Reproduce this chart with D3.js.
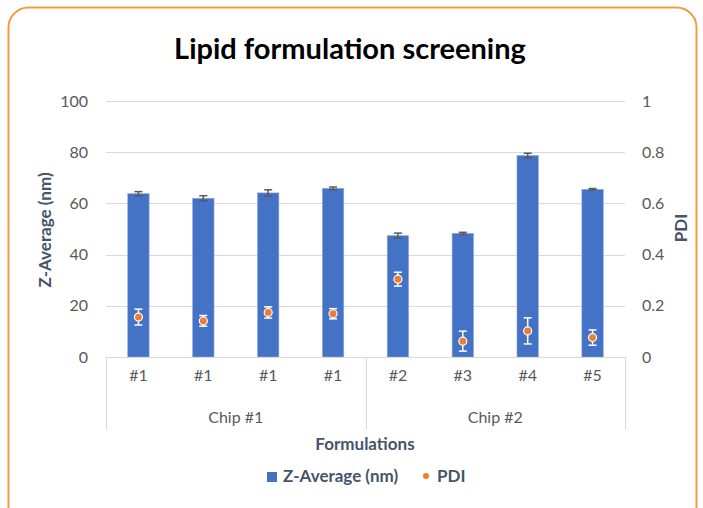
<!DOCTYPE html>
<html>
<head>
<meta charset="utf-8">
<script src="https://cdn.jsdelivr.net/npm/d3@7"></script>
<style>
  html, body { margin: 0; padding: 0; background: #fff; }
  svg { display: block; }
</style>
</head>
<body>
<div id="viz"></div>
<script>
// chart data
const formulations = ['#1', '#1', '#1', '#1', '#2', '#3', '#4', '#5'];
const chips = ['Chip #1', 'Chip #1', 'Chip #1', 'Chip #1', 'Chip #2', 'Chip #2', 'Chip #2', 'Chip #2'];
const zAverage = [63.8, 62.0, 64.1, 65.9, 47.4, 48.3, 78.7, 65.5];
const zError = [0.8, 1.0, 1.2, 0.5, 1.0, 0.4, 0.9, 0.3];
const pdi = [0.156, 0.141, 0.174, 0.169, 0.304, 0.062, 0.102, 0.076];
const pdiError = [0.031, 0.021, 0.022, 0.02, 0.027, 0.039, 0.051, 0.03];
const leftTicks = [0, 20, 40, 60, 80, 100];
const rightTicks = [0, 0.2, 0.4, 0.6, 0.8, 1];

const width = 703;
const height = 508;
const margin = { left: 106, right: 78, top: 101, bottom: 151 };

const font = 'Lato, "Open Sans", sans-serif';
const blue = '#4472C4';
const orange = '#ED7D31';
const tickGray = '#595959';
const titleGray = '#44546A';

const svg = d3.select('#viz').append('svg')
  .attr('width', width)
  .attr('height', height)
  .style('font-family', font);

// rounded orange frame
svg.append('rect')
  .attr('x', 8.5)
  .attr('y', 7.5)
  .attr('width', 688)
  .attr('height', 520)
  .attr('rx', 20)
  .attr('fill', '#fff')
  .attr('stroke', '#F79A3A')
  .attr('stroke-width', 2);

svg.append('text')
  .text('Lipid formulation screening')
  .attr('x', 350)
  .attr('y', 59)
  .attr('text-anchor', 'middle')
  .attr('font-size', 29)
  .attr('font-weight', 'bold')
  .attr('fill', '#000');

const idx = d3.range(formulations.length);

let x = d3.scaleBand()
  .domain(idx)
  .range([margin.left, width - margin.right])
  .paddingInner(0.67)
  .paddingOuter(0.335);

let yLeft = d3.scaleLinear()
  .domain([0, 100])
  .range([height - margin.bottom, margin.top]);

let yRight = d3.scaleLinear()
  .domain([0, 1])
  .range([height - margin.bottom, margin.top]);

// gridlines
svg.append('g')
  .selectAll('line')
  .data(leftTicks.slice(1))
  .join('line')
  .attr('x1', margin.left)
  .attr('x2', width - margin.right)
  .attr('y1', d => Math.round(yLeft(d)) + 0.5)
  .attr('y2', d => Math.round(yLeft(d)) + 0.5)
  .attr('stroke', '#D9D9D9')
  .attr('stroke-width', 1);

// left axis
const leftAxis = svg.append('g')
  .attr('transform', `translate(${margin.left - 18},0)`)
  .call(d3.axisLeft(yLeft).tickValues(leftTicks).tickSize(0).tickPadding(0));
leftAxis.select('.domain').remove();
leftAxis.selectAll('text')
  .attr('font-size', 16)
  .attr('font-family', font)
  .attr('fill', tickGray);

// right axis
const rightAxis = svg.append('g')
  .attr('transform', `translate(${width - margin.right + 17},0)`)
  .call(d3.axisRight(yRight).tickValues(rightTicks).tickSize(0).tickPadding(0)
    .tickFormat(d => d3.format('~g')(d)));
rightAxis.select('.domain').remove();
rightAxis.selectAll('text')
  .attr('font-size', 16)
  .attr('font-family', font)
  .attr('fill', tickGray);

// bars
svg.append('g')
  .selectAll('rect')
  .data(idx)
  .join('rect')
  .attr('x', i => x(i))
  .attr('width', x.bandwidth())
  .attr('y', i => yLeft(zAverage[i]))
  .attr('height', i => yLeft(0) - yLeft(zAverage[i]))
  .attr('fill', blue)
  .attr('stroke', '#8FAADC')
  .attr('stroke-width', 0.6);

// bar error bars
const zErr = svg.append('g')
  .attr('stroke', '#595959')
  .attr('stroke-width', 1.5);
idx.forEach(i => {
  const cx = x(i) + x.bandwidth() / 2;
  const y1 = yLeft(zAverage[i] + zError[i]);
  const y2 = yLeft(zAverage[i] - zError[i]);
  zErr.append('line').attr('x1', cx).attr('x2', cx).attr('y1', y1).attr('y2', y2);
  zErr.append('line').attr('x1', cx - 4).attr('x2', cx + 4).attr('y1', y1).attr('y2', y1);
  zErr.append('line').attr('x1', cx - 4).attr('x2', cx + 4).attr('y1', y2).attr('y2', y2);
});

// axis line at zero
svg.append('line')
  .attr('x1', margin.left)
  .attr('x2', width - margin.right)
  .attr('y1', Math.round(yLeft(0)) + 0.5)
  .attr('y2', Math.round(yLeft(0)) + 0.5)
  .attr('stroke', '#D9D9D9');

// PDI error bars and points
const pErr = svg.append('g')
  .attr('stroke', '#fff')
  .attr('stroke-width', 1.5);
idx.forEach(i => {
  const cx = x(i) + x.bandwidth() / 2;
  const y1 = yRight(pdi[i] + pdiError[i]);
  const y2 = yRight(pdi[i] - pdiError[i]);
  pErr.append('line').attr('x1', cx).attr('x2', cx).attr('y1', y1).attr('y2', y2);
  pErr.append('line').attr('x1', cx - 4).attr('x2', cx + 4).attr('y1', y1).attr('y2', y1);
  pErr.append('line').attr('x1', cx - 4).attr('x2', cx + 4).attr('y1', y2).attr('y2', y2);
});

svg.append('g')
  .selectAll('circle')
  .data(idx)
  .join('circle')
  .attr('cx', i => x(i) + x.bandwidth() / 2)
  .attr('cy', i => yRight(pdi[i]))
  .attr('r', 4)
  .attr('fill', orange)
  .attr('stroke', '#fff')
  .attr('stroke-width', 1.2);

// multi-level category axis
const y0 = Math.round(yLeft(0));
const boxBottom = y0 + 73;
const chipNames = Array.from(new Set(chips));
const chipGroups = chipNames.map(c => {
  const members = idx.filter(i => chips[i] === c);
  return { name: c, first: members[0], last: members[members.length - 1] };
});
const step = x.step();
const catLines = [margin.left].concat(chipGroups.map(g => x(g.last) + x.bandwidth() / 2 + step / 2));

svg.append('g')
  .selectAll('line')
  .data(catLines)
  .join('line')
  .attr('x1', d => Math.round(d) + 0.5)
  .attr('x2', d => Math.round(d) + 0.5)
  .attr('y1', y0)
  .attr('y2', boxBottom)
  .attr('stroke', '#D9D9D9');

svg.append('g')
  .selectAll('text')
  .data(idx)
  .join('text')
  .text(i => formulations[i])
  .attr('x', i => x(i) + x.bandwidth() / 2)
  .attr('y', y0 + 24)
  .attr('text-anchor', 'middle')
  .attr('font-size', 16)
  .attr('fill', tickGray);

svg.append('g')
  .selectAll('text')
  .data(chipGroups)
  .join('text')
  .text(g => g.name)
  .attr('x', g => (x(g.first) + x(g.last) + x.bandwidth()) / 2)
  .attr('y', y0 + 66)
  .attr('text-anchor', 'middle')
  .attr('font-size', 16)
  .attr('fill', tickGray);

// axis titles
svg.append('text')
  .text('Formulations')
  .attr('x', 365)
  .attr('y', 450)
  .attr('text-anchor', 'middle')
  .attr('font-size', 17)
  .attr('font-weight', 'bold')
  .attr('fill', titleGray);

svg.append('text')
  .text('Z-Average (nm)')
  .attr('transform', `translate(51,230) rotate(-90)`)
  .attr('text-anchor', 'middle')
  .attr('font-size', 17)
  .attr('font-weight', 'bold')
  .attr('fill', titleGray);

svg.append('text')
  .text('PDI')
  .attr('transform', `translate(687,228) rotate(-90)`)
  .attr('text-anchor', 'middle')
  .attr('font-size', 17)
  .attr('font-weight', 'bold')
  .attr('fill', titleGray);

// legend
const legend = svg.append('g')
  .attr('font-size', 17)
  .attr('font-weight', 'bold')
  .attr('fill', titleGray);
legend.append('rect')
  .attr('x', 267).attr('y', 472).attr('width', 10).attr('height', 10)
  .attr('fill', blue);
legend.append('text').text('Z-Average (nm)').attr('x', 283).attr('y', 482);
legend.append('circle')
  .attr('cx', 426).attr('cy', 476).attr('r', 3)
  .attr('fill', orange);
legend.append('text').text('PDI').attr('x', 437).attr('y', 482);
</script>
</body>
</html>
